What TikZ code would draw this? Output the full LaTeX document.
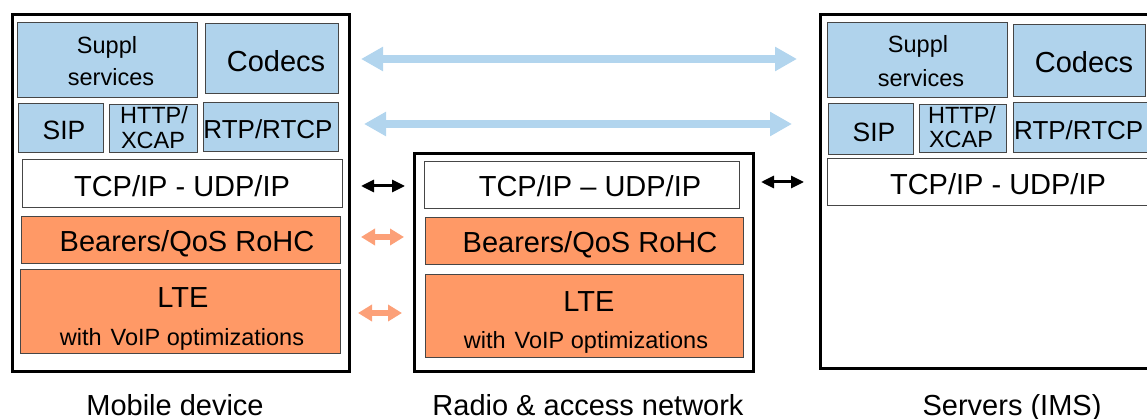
\documentclass[tikz,border=0pt]{standalone}
\usepackage{fontspec}
\setmainfont{Liberation Sans}
\usetikzlibrary{arrows.meta}
\definecolor{boxblue}{RGB}{176,211,236}
\definecolor{boxorange}{RGB}{255,153,102}
\definecolor{arrblue}{RGB}{178,213,238}
\definecolor{arrorange}{RGB}{252,160,120}
\definecolor{edgegray}{RGB}{70,70,70}
\begin{document}
\begin{tikzpicture}[x=1pt,y=-1pt,
  outerbox/.style={draw=black, line width=3pt, fill=white, inner sep=0pt, anchor=north west},
  layer/.style={draw=edgegray, line width=0.9pt, inner sep=0pt, anchor=north west},
  bluelayer/.style={layer, fill=boxblue},
  orangelayer/.style={layer, fill=boxorange},
  whitelayer/.style={layer, fill=white},
  bigtxt/.style={font=\fontsize{29}{29}\selectfont, anchor=base, inner sep=0pt},
  midtxt/.style={font=\fontsize{26.5}{26.5}\selectfont, anchor=base, inner sep=0pt},
  smalltxt/.style={font=\fontsize{23.5}{23.5}\selectfont, anchor=base, inner sep=0pt},
  bluearrow/.style={draw=arrblue, line width=8pt, {Triangle[length=22pt,width=23pt]}-{Triangle[length=22pt,width=23pt]}},
  blackarrow/.style={draw=black, line width=3pt, {Triangle[length=13pt,width=12pt]}-{Triangle[length=13pt,width=12pt]}},
  orangearrow/.style={draw=arrorange, line width=6pt, {Triangle[length=14pt,width=16pt]}-{Triangle[length=14pt,width=16pt]}}
]
\useasboundingbox (0,0) rectangle (1147,419);

% ---------- Mobile device ----------
\node[outerbox, minimum width=337pt, minimum height=357pt] (mOuter) at (11,13) {};
\node[bluelayer, minimum width=180pt, minimum height=75pt] (mSuppl) at (17,22) {};
\node[bluelayer, minimum width=133pt, minimum height=70pt] (mCodecs) at (205,23) {};
\node[bluelayer, minimum width=85pt, minimum height=49pt] (mSip) at (18,103) {};
\node[bluelayer, minimum width=88pt, minimum height=48pt] (mHttp) at (109,104) {};
\node[bluelayer, minimum width=135pt, minimum height=49pt] (mRtp) at (203,102) {};
\node[whitelayer, minimum width=320pt, minimum height=48pt] (mTcp) at (22,159) {};
\node[orangelayer, minimum width=319pt, minimum height=47pt] (mBearer) at (21,216) {};
\node[orangelayer, minimum width=320pt, minimum height=84pt] (mLte) at (20,269) {};

\node[smalltxt] (tmSuppl) at (107,54) {Suppl};
\node[smalltxt] (tmServ) at (111,86) {services};
\node[bigtxt] (tmCodecs) at (276,72) {Codecs};
\node[midtxt] (tmSip) at (64,140) {SIP};
\node[smalltxt] (tmHttp) at (154,124) {HTTP/};
\node[smalltxt] (tmXcap) at (153,149) {XCAP};
\node[midtxt, font=\fontsize{26}{26}\selectfont] (tmRtp) at (268,139) {RTP/RTCP};
\node[bigtxt] (tmTcp) at (182,197) {TCP/IP - UDP/IP};
\node[bigtxt] (tmBearer) at (187,252) {Bearers/QoS RoHC};
\node[bigtxt] (tmLte) at (183,307) {LTE};
\node[smalltxt] (tmVoip) at (182,345) {with\hspace{9pt}VoIP optimizations};
\node[bigtxt] (tmLabel) at (175,415) {Mobile device};

% ---------- Radio & access network ----------
\node[outerbox, minimum width=339pt, minimum height=218pt] (rOuter) at (413,152) {};
\node[whitelayer, minimum width=315pt, minimum height=47pt] (rTcp) at (424,161) {};
\node[orangelayer, minimum width=318pt, minimum height=47pt] (rBearer) at (425,217) {};
\node[orangelayer, minimum width=318pt, minimum height=83pt] (rLte) at (425,274) {};

\node[bigtxt] (trTcp) at (590,197) {TCP/IP – UDP/IP};
\node[bigtxt] (trBearer) at (590,253) {Bearers/QoS RoHC};
\node[bigtxt] (trLte) at (589,312) {LTE};
\node[smalltxt] (trVoip) at (586,348) {with\hspace{9pt}VoIP optimizations};
\node[bigtxt] (trLabel) at (588,415) {Radio \& access network};

% ---------- Servers (IMS) ----------
\node[outerbox, minimum width=350pt, minimum height=354pt] (sOuter) at (819,13) {};
\node[bluelayer, minimum width=180pt, minimum height=75pt] (sSuppl) at (827,22) {};
\node[bluelayer, minimum width=132pt, minimum height=72pt] (sCodecs) at (1013,24) {};
\node[bluelayer, minimum width=85pt, minimum height=51pt] (sSip) at (828,103) {};
\node[bluelayer, minimum width=87pt, minimum height=48pt] (sHttp) at (919,104) {};
\node[bluelayer, minimum width=150pt, minimum height=50pt] (sRtp) at (1013,102) {};
\node[whitelayer, minimum width=345pt, minimum height=47pt] (sTcp) at (827,158) {};

\node[smalltxt] (tsSuppl) at (918,53) {Suppl};
\node[smalltxt] (tsServ) at (921,87) {services};
\node[bigtxt] (tsCodecs) at (1084,73) {Codecs};
\node[midtxt] (tsSip) at (874,142) {SIP};
\node[smalltxt] (tsHttp) at (962,124) {HTTP/};
\node[smalltxt] (tsXcap) at (961,148) {XCAP};
\node[midtxt, font=\fontsize{26}{26}\selectfont, anchor=base west] (tsRtp) at (1014,140) {RTP/RTCP};
\node[bigtxt] (tsTcp) at (998,195) {TCP/IP - UDP/IP};
\node[bigtxt] (tsLabel) at (1012,415) {Servers (IMS)};

% ---------- Connectors ----------
\coordinate (b1l) at (361,59);  \coordinate (b1r) at (797,59);
\coordinate (b2l) at (364,124); \coordinate (b2r) at (792,124);
\coordinate (k1l) at (361,186); \coordinate (k1r) at (405,186);
\coordinate (k2l) at (761,182); \coordinate (k2r) at (804,182);
\coordinate (o1l) at (361,237); \coordinate (o1r) at (404,237);
\coordinate (o2l) at (358,313); \coordinate (o2r) at (402,313);

\draw[bluearrow] (b1l) -- (b1r);
\draw[bluearrow] (b2l) -- (b2r);
\draw[blackarrow] (k1l) -- (k1r);
\draw[blackarrow] (k2l) -- (k2r);
\draw[orangearrow] (o1l) -- (o1r);
\draw[orangearrow] (o2l) -- (o2r);
\end{tikzpicture}
\end{document}
